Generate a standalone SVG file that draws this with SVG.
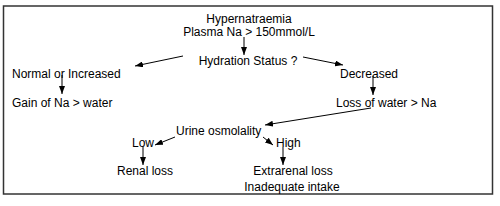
<svg xmlns="http://www.w3.org/2000/svg" width="500" height="206" viewBox="0 0 500 206">
<style>
text{font-family:"Liberation Sans",Arial,sans-serif;font-size:12px;fill:#000}
.c line{stroke:#000;stroke-width:1;marker-end:url(#ah)}
</style>
<defs>
<marker id="ah" viewBox="0 0 8 6" refX="8" refY="3" markerWidth="8" markerHeight="6" markerUnits="userSpaceOnUse" orient="auto">
<path d="M0,0 L8,3 L0,6 Z" fill="#000"/>
</marker>
</defs>
<rect x="3.5" y="6" width="489" height="188" fill="#fff" stroke="#333" stroke-width="1.5"/>
<g id="n-hyper"><text x="249" y="23" text-anchor="middle">Hypernatraemia</text><text x="249" y="36" text-anchor="middle">Plasma Na &gt; 150mmol/L</text></g>
<g id="n-hydration"><text x="248" y="65" text-anchor="middle">Hydration Status ?</text></g>
<g id="n-normal"><text x="12" y="78">Normal or Increased</text></g>
<g id="n-gain"><text x="12" y="107">Gain of Na &gt; water</text></g>
<g id="n-decreased"><text x="340" y="78">Decreased</text></g>
<g id="n-loss"><text x="336" y="107">Loss of water &gt; Na</text></g>
<g id="n-urine"><text x="176" y="135">Urine osmolality</text></g>
<g id="n-low"><text x="132" y="147">Low</text></g>
<g id="n-high"><text x="276" y="147">High</text></g>
<g id="n-renal"><text x="117" y="175">Renal loss</text></g>
<g id="n-extra"><text x="293" y="175" text-anchor="middle">Extrarenal loss</text><text x="292" y="191" text-anchor="middle">Inadequate intake</text></g>
<g class="c" id="connectors">
<line x1="244" y1="37" x2="244" y2="55"/>
<line x1="183" y1="56" x2="135" y2="66"/>
<line x1="303" y1="57" x2="343" y2="65"/>
<line x1="62" y1="75" x2="62" y2="94"/>
<line x1="373" y1="76" x2="373" y2="95"/>
<line x1="371" y1="108" x2="265" y2="125"/>
<line x1="175" y1="137" x2="155" y2="145"/>
<line x1="263" y1="137" x2="273" y2="145"/>
<line x1="143" y1="147" x2="143" y2="165"/>
<line x1="283" y1="147" x2="283" y2="165"/>
</g>
</svg>
